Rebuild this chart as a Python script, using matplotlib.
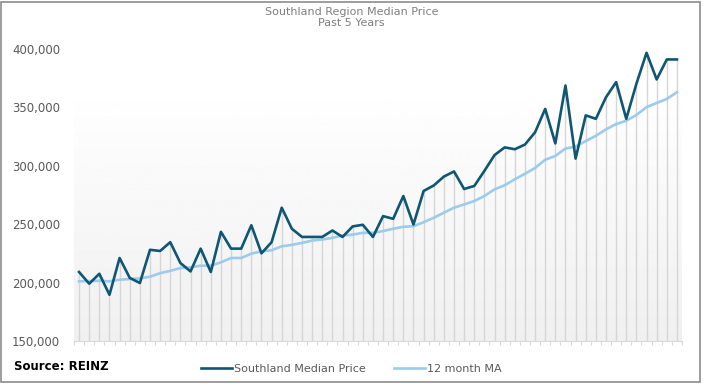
import numpy as np
import matplotlib.pyplot as plt
from matplotlib.lines import Line2D
from matplotlib.patches import Rectangle

# monthly values, last 5 years (60 months)
median_price = [209000, 199000, 207500, 189500, 221000, 204000, 199600, 228000, 227000, 234500,
                216700, 209500, 229000, 209000, 243400, 229000, 229000, 249000, 225000, 234500,
                264000, 246000, 239000, 239000, 239000, 244500, 239000, 248000, 249400, 239000,
                256800, 254500, 274000, 249600, 278300, 283000, 290600, 295000, 280000, 282600,
                295500, 309000, 315600, 314000, 318000, 328500, 348500, 319000, 368500, 306000,
                343000, 340000, 358500, 371400, 340000, 370000, 396500, 373700, 390800, 390800]
ma_12 = [201000, 201300, 201500, 201000, 202400, 203000, 203500, 205000, 208000, 210000,
         212400, 213000, 214400, 214400, 217300, 221000, 221000, 224700, 226700, 227600,
         231000, 232200, 233900, 235900, 236800, 238200, 240200, 241000, 242500, 242500,
         244000, 246000, 247700, 248200, 251600, 255400, 259700, 264000, 266800, 269700,
         274000, 279700, 283200, 288300, 293000, 298000, 305000, 308300, 314600, 316300,
         321000, 325500, 331000, 335500, 338400, 343300, 350000, 353600, 357000, 362800]
y_ticks = [150000, 200000, 250000, 300000, 350000, 400000]

dark = '#0f5672'
light = '#9ccbeb'
grey_txt = '#595959'

fig = plt.figure(figsize=(7.03, 3.84), dpi=100)
fig.patches.append(Rectangle((0.002, 0.006), 0.994, 0.99, transform=fig.transFigure,
                             fill=False, edgecolor='#8c8c8c', linewidth=1.2))
ax = fig.add_axes([74 / 703, 43 / 384, 608 / 703, 304 / 384])

x = np.arange(len(median_price))
ax.set_xlim(-0.5, len(x) - 0.5)
ax.set_ylim(150000, 410000)

# gradient background, light grey at the bottom fading to white
grad = np.linspace(0.94, 1.0, 256).reshape(-1, 1)
ax.imshow(grad, cmap='gray', vmin=0, vmax=1, aspect='auto', origin='lower',
          extent=[0, 1, 0, 0.85], transform=ax.transAxes, zorder=0)

ax.vlines(x, 150000, median_price, color='#d6d6d6', linewidth=1.0, zorder=1)
ax.plot(x, median_price, color=dark, linewidth=1.9, zorder=3)
ax.plot(x, ma_12, color=light, linewidth=1.9, zorder=2)

ax.set_yticks(y_ticks)
ax.set_yticklabels([f'{v:,}' for v in y_ticks], color=grey_txt, fontsize=8.5)
ax.tick_params(axis='y', length=0, pad=10)
ax.set_xticks(np.arange(-0.5, len(x), 1))
ax.set_xticklabels([])
ax.tick_params(axis='x', length=3, color='#d9d9d9', width=0.8)
for s in ['top', 'right', 'left']:
    ax.spines[s].set_visible(False)
ax.spines['bottom'].set_color('#d9d9d9')

fig.text(0.5, 1 - 17.5 / 384, 'Southland Region Median Price\nPast 5 Years', ha='center',
         va='center', fontsize=8, color='#7f7f7f', linespacing=1.05)
fig.text(14 / 703, 1 - 366 / 384, 'Source: REINZ', fontsize=8.5, fontweight='bold',
         va='center', ha='left')

handles = [Line2D([], [], color=dark, linewidth=1.9), Line2D([], [], color=light, linewidth=1.9)]
fig.legend(handles, ['Southland Median Price', '12 month MA'], loc='center',
           bbox_to_anchor=(0.5, 1 - 369 / 384), ncol=2, frameon=False, fontsize=8,
           labelcolor=grey_txt, handlelength=2.8, handletextpad=0.2, columnspacing=2.5)

fig.savefig('out.png', dpi=100)
